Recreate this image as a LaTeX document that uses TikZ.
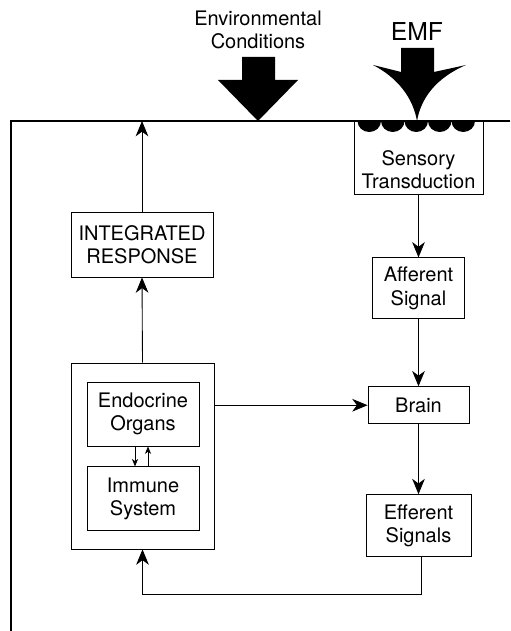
\documentclass[tikz,border=0pt]{standalone}
\usepackage{fontspec}
\setmainfont{TeX Gyre Heros}
\usepackage{tikz}
\usetikzlibrary{arrows.meta,positioning}
\definecolor{inkblack}{RGB}{0,0,0}
\begin{document}
\begin{tikzpicture}[
  x=0.75pt, y=-0.75pt,
  box/.style={draw=inkblack, line width=0.65pt, rectangle, inner sep=0pt, align=center, font=\fontsize{15}{17.5}\selectfont},
  lab/.style={align=center, inner sep=0pt, font=\fontsize{15}{17.5}\selectfont},
  arr/.style={-{Stealth[length=11.5pt,width=9.5pt,inset=3.5pt]}, line width=0.65pt},
  sarr/.style={-{Stealth[length=5.5pt,width=4.5pt,inset=1.5pt]}, line width=0.6pt},
  bigarr/.style={fill=inkblack}
]
\useasboundingbox (0,0) rectangle (510,631);
\coordinate (topL) at (11,121);
\coordinate (topR) at (510,121);
\coordinate (botL) at (11,631);
\draw[line width=0.8pt] (topR) -- (topL) -- (botL);
\node[lab] (env) at (258,30) {Environmental\\Conditions};
\node[lab, font=\fontsize{18.5}{21}\selectfont] (emf) at (417,32) {EMF};
\fill[bigarr] (242,57) -- (275,57) -- (275,80) -- (298,80) -- (258,121) -- (218,80) -- (242,80) -- cycle;
\fill[bigarr] (401,48) -- (434,48) -- (434,72) -- (466,65) .. controls (436,78) and (421,98) .. (417,121) .. controls (413,98) and (398,78) .. (373,65) -- (401,72) -- cycle;
\node[box, minimum width=96.75pt, minimum height=54.75pt] (sens) at (418.5,157.5) {};
\node[lab] (senstxt) at (418.5,170) {Sensory\\Transduction};
\foreach \i in {0,...,4}
  \fill[inkblack] (357.5+23.5*\i,121) arc[start angle=180, end angle=0, x radius=11.75, y radius=11];
\node[box, minimum width=69pt, minimum height=45.75pt, below=47.25pt of sens] (aff) {Afferent\\Signal};
\node[box, minimum width=75.75pt, minimum height=27.75pt, below=50.25pt of aff] (brain) {Brain};
\node[box, minimum width=78.75pt, minimum height=46.5pt, below=52.5pt of brain] (eff) {Efferent\\Signals};
\node[box, minimum width=106.5pt, minimum height=48.75pt] (integ) at (142,244.5) {INTEGRATED\\RESPONSE};
\node[box, minimum width=107.25pt, minimum height=139.5pt] (neib) at (142.5,456) {};
\node[box, minimum width=84pt, minimum height=48pt] (endo) at (143,414) {Endocrine\\Organs};
\node[box, minimum width=84pt, minimum height=48pt, below=15pt of endo] (immu) {Immune\\System};
\draw[arr] (sens.south) -- (aff.north);
\draw[arr] (aff.south) -- (brain.north);
\draw[arr] (brain.south) -- (eff.north);
\draw[arr] (brain.west -| neib.east) -- (brain.west);
\draw[arr] (neib.north) -- (integ.south);
\draw[arr] (integ.north) -- (integ.north |- topL);
\draw[sarr] ([xshift=-6pt]endo.south) -- ([xshift=-6pt]immu.north);
\draw[sarr] ([xshift=3.75pt]immu.north) -- ([xshift=3.75pt]endo.south);
\draw[arr] ([xshift=2.5pt]eff.south) -- ++(0,37) -| (neib.south);
\end{tikzpicture}
\end{document}
